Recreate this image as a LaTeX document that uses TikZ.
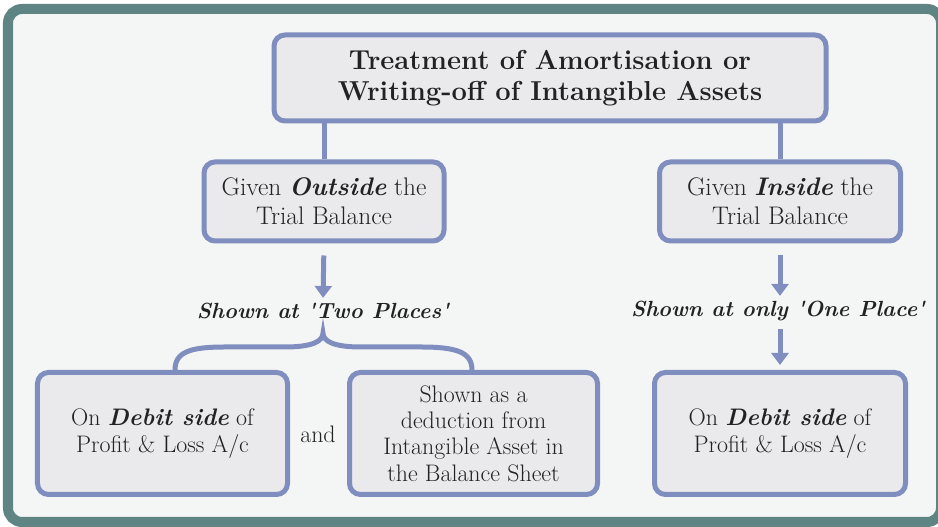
\documentclass[tikz,border=0pt]{standalone}
\usepackage{fontspec}
\usepackage{tikz}
\usetikzlibrary{arrows.meta}

\definecolor{framecol}{HTML}{5E8583}
\definecolor{panelcol}{HTML}{F4F6F6}
\definecolor{boxline}{HTML}{7F8DBF}
\definecolor{boxfill}{HTML}{EAEAEC}
\definecolor{inkcol}{HTML}{222222}

\begin{document}
\begin{tikzpicture}[x=1bp,y=1bp,
    box/.style={draw=boxline,fill=boxfill,line width=5bp,rounded corners=11bp,text=inkcol,
        align=center,inner sep=0pt,font=\fontsize{24}{26.5}\selectfont},
    label/.style={align=center,inner sep=2bp,text=inkcol,font=\fontsize{22}{27}\selectfont\bfseries\itshape},
    link/.style={draw=boxline,line width=5bp},
    flow/.style={draw=boxline,line width=5bp,-{Triangle[width=17bp,length=12bp]}}]
    \useasboundingbox (0,0) rectangle (938,527);
    \fill[white] (0,0) rectangle (938,527);
    \draw[draw=framecol,fill=panelcol,line width=10bp,rounded corners=14bp] (8,5) rectangle (941,518);

    \node[box,minimum width=552bp,minimum height=86bp,font=\fontsize{27.5}{31}\selectfont\bfseries]
        (treat) at (550,449) {Treatment of Amortisation or\\Writing-off of Intangible Assets};
    \node[box,minimum width=240bp,minimum height=79bp,font=\fontsize{25.5}{29}\selectfont] (outside) at (324,325.5)
        {Given \textbf{\textit{Outside}} the\\Trial Balance};
    \node[box,minimum width=241bp,minimum height=79bp,font=\fontsize{25.5}{29}\selectfont] (inside) at (780,325.5)
        {Given \textbf{\textit{Inside}} the\\Trial Balance};
    \node[label] (two) at (323,216) {Shown at \textquotesingle Two Places\textquotesingle};
    \node[label] (one) at (778,216) {Shown at only \textquotesingle One Place\textquotesingle};
    \node[box,minimum width=250bp,minimum height=122bp] (debitl) at (162.5,93.5)
        {On \textbf{\textit{Debit side}} of\\Profit \& Loss A/c};
    \node[box,minimum width=248bp,minimum height=122bp] (sheet) at (473.5,93.5)
        {Shown as a\\deduction from\\Intangible Asset in\\the Balance Sheet};
    \node[box,minimum width=251bp,minimum height=122bp] (debitr) at (780,93.5)
        {On \textbf{\textit{Debit side}} of\\Profit \& Loss A/c};
    \node[text=inkcol,font=\fontsize{24}{27}\selectfont] (and) at (318,93) {and};

    \coordinate (bl) at (175,157);
    \coordinate (br) at (472,157);
    \coordinate (tip) at (323,194);

    \path[link] (outside.north |- treat.south) -- (outside.north);
    \path[link] (inside.north |- treat.south) -- (inside.north);
    \path[flow,shorten <=12bp,shorten >=3bp] (outside.south) -- (two.north);
    \path[flow,shorten <=12bp,shorten >=3bp] (inside.south) -- (inside.south |- one.north);
    \path[flow,shorten <=6bp,shorten >=5bp] (inside.south |- one.south) -- (debitr.north);
    \path[link,line cap=round] (bl) .. controls (175,175) and (190,180) .. (225,180) -- (285,180)
        .. controls (313,180) and (323,186) .. (tip)
        .. controls (323,186) and (333,180) .. (361,180) -- (421,180)
        .. controls (456,180) and (472,175) .. (br);
\end{tikzpicture}
\end{document}
